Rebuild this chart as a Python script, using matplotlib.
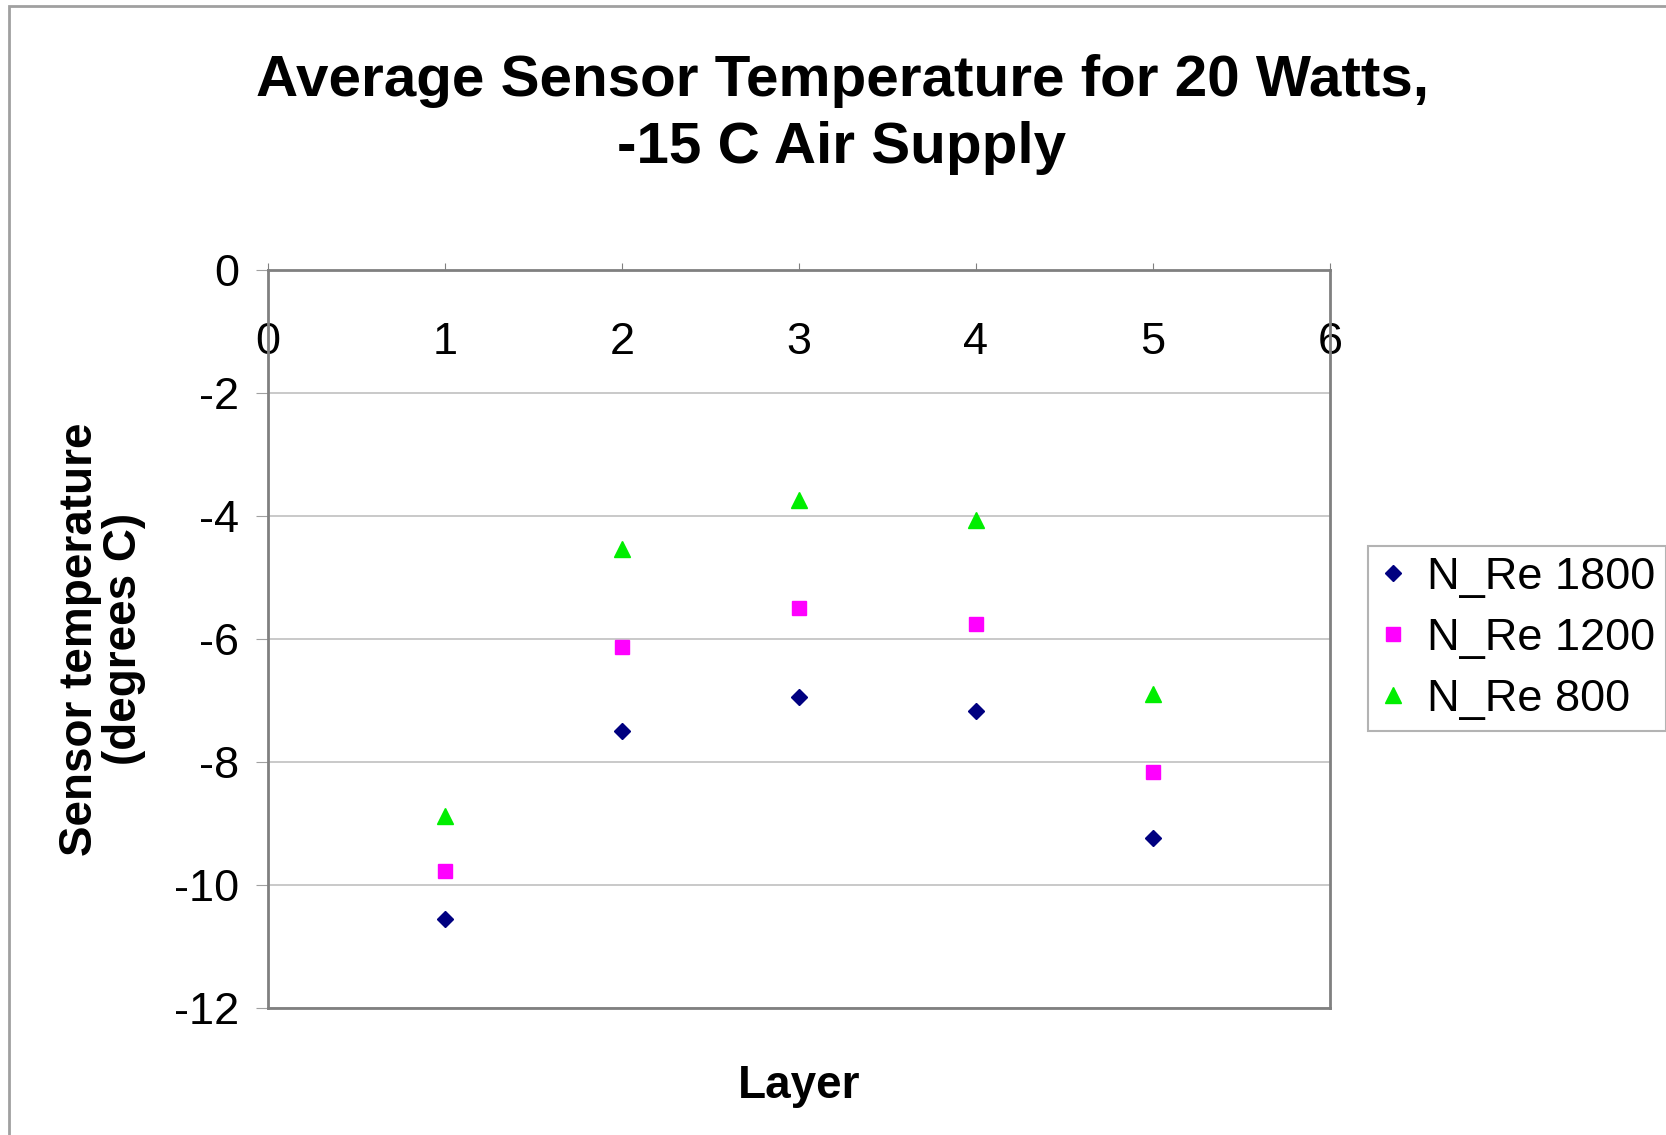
import matplotlib.pyplot as plt
import matplotlib.patches as mpatches

plt.rcParams['font.family'] = ['Liberation Sans', 'DejaVu Sans']
plt.rcParams['axes.unicode_minus'] = False

layers = [1, 2, 3, 4, 5]
re1800 = [-10.56, -7.50, -6.94, -7.17, -9.23]
re1200 = [-9.78, -6.13, -5.49, -5.75, -8.16]
re800 = [-8.87, -4.54, -3.74, -4.07, -6.89]
names = ['N_Re 1800', 'N_Re 1200', 'N_Re 800']

W, H = 1666, 1135
fig = plt.figure(figsize=(W / 100, H / 100), dpi=100)

# outer chart frame (right/bottom run off the picture)
fig.patches.append(mpatches.Rectangle((9 / W, -0.1), 1.1, 1 - 6 / H + 0.1,
                                      transform=fig.transFigure, fill=False,
                                      edgecolor='#a0a0a0', lw=2))

ax = fig.add_axes([268 / W, 1 - 1008 / H, (1330 - 268) / W, (1008 - 270) / H])
ax.plot(layers, re1800, 'D', color='#000080', ms=8.5, label=names[0])
ax.plot(layers, re1200, 's', color='#ff00ff', ms=10.5, label=names[1])
ax.plot(layers, re800, '^', color='#00ee00', ms=11, label=names[2])

ax.set_xlim(0, 6)
ax.set_ylim(-12, 0)
ax.set_xticks(range(0, 7))
ax.set_yticks(range(-12, 1, 2))
ax.grid(axis='y', color='#c0c0c0', lw=1.2)
ax.set_axisbelow(True)
for s in ax.spines.values():
    s.set_color('#808080')
    s.set_linewidth(2)

ax.tick_params(axis='x', top=True, bottom=False, labeltop=True, labelbottom=False,
               direction='out', length=5, color='#808080', labelsize=32.5, pad=-72)
ax.tick_params(axis='y', direction='out', length=9, color='#a0a0a0', labelsize=32.5, pad=12)

ax.set_xlabel('Layer', fontsize=33, fontweight='bold', labelpad=40)
ax.set_ylabel('Sensor temperature\n(degrees C)', fontsize=33, fontweight='bold',
              labelpad=20, linespacing=1.0)

fig.text(842 / W, 1 - 81 / H, 'Average Sensor Temperature for 20 Watts,',
         ha='center', va='center', fontsize=42, fontweight='bold')
fig.text(842 / W, 1 - 148 / H, '-15 C Air Supply',
         ha='center', va='center', fontsize=42, fontweight='bold')

leg = fig.legend(loc='upper left', bbox_to_anchor=(1368 / W, 1 - 546 / H),
                 fontsize=32.5, frameon=True, fancybox=False, handlelength=0.6,
                 handletextpad=0.45, borderpad=0.25, labelspacing=0.44,
                 borderaxespad=0, markerscale=1.0)
leg.get_frame().set_edgecolor('#a0a0a0')
leg.get_frame().set_linewidth(1.5)

fig.savefig('out.png', dpi=100)
